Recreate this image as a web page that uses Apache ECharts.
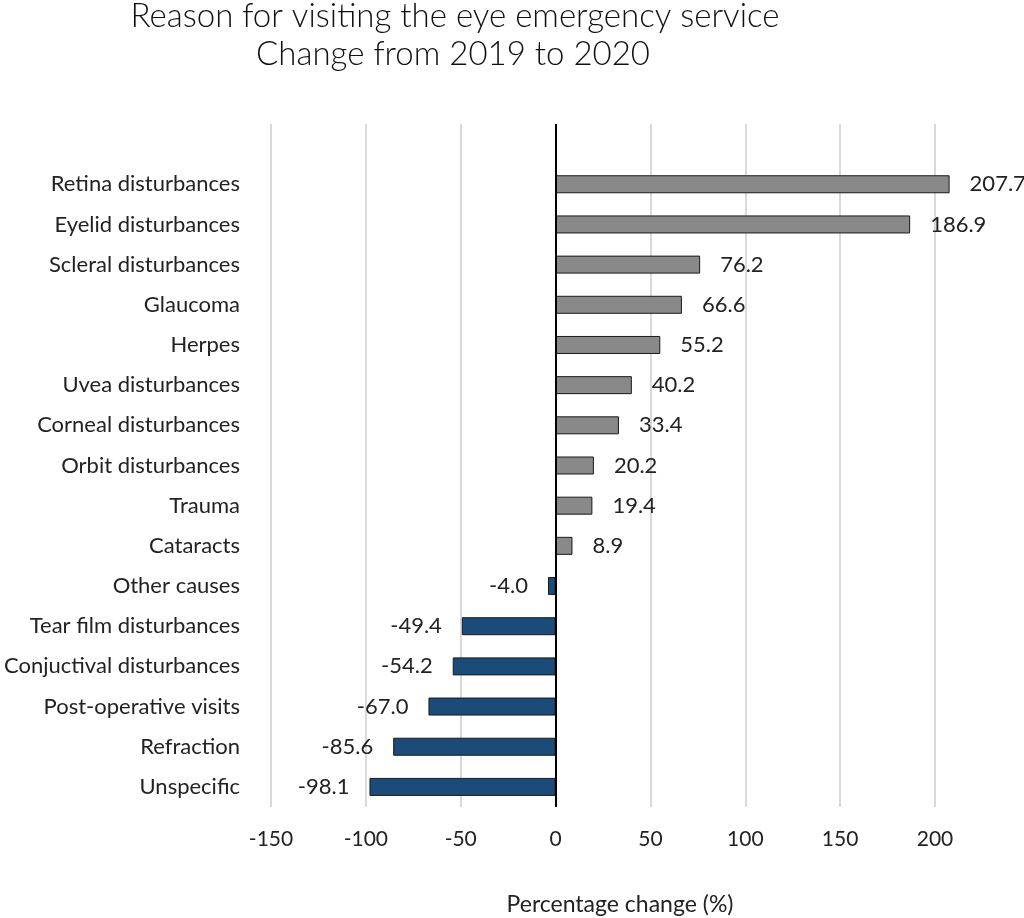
<!DOCTYPE html>
<html>
<head>
<meta charset="utf-8">
<script src="https://cdn.jsdelivr.net/npm/echarts@6/dist/echarts.min.js"></script>
<style>
html,body{margin:0;padding:0;background:#fff;}
#chart{width:1024px;height:918px;}
</style>
</head>
<body>
<div id="chart"></div>
<script>
const titleLines = ['Reason for visiting the eye emergency service', 'Change from 2019 to 2020'];
const categories = [
  'Retina disturbances', 'Eyelid disturbances', 'Scleral disturbances', 'Glaucoma', 'Herpes',
  'Uvea disturbances', 'Corneal disturbances', 'Orbit disturbances', 'Trauma', 'Cataracts',
  'Other causes', 'Tear film disturbances', 'Conjuctival disturbances', 'Post-operative visits',
  'Refraction', 'Unspecific'
];
const values = [207.7, 186.9, 76.2, 66.6, 55.2, 40.2, 33.4, 20.2, 19.4, 8.9, -4.0, -49.4, -54.2, -67.0, -85.6, -98.1];
const xTicks = [-150, -100, -50, 0, 50, 100, 150, 200];
const axisName = 'Percentage change (%)';

const FONT = 'Lato';
const POS_COLOR = '#898989';
const NEG_COLOR = '#1b4b78';

const yData = [''].concat(categories);
const seriesData = [null].concat(values.map(v => ({
  value: v,
  itemStyle: { color: v >= 0 ? POS_COLOR : NEG_COLOR },
  label: { position: v >= 0 ? 'right' : 'left' }
})));

const chart = echarts.init(document.getElementById('chart'));
chart.setOption({
  backgroundColor: '#fff',
  animation: false,
  textStyle: { fontFamily: FONT },
  grid: { left: 271, right: 89, top: 124, bottom: 111, containLabel: false },
  xAxis: {
    type: 'value',
    min: xTicks[0],
    max: xTicks[xTicks.length - 1],
    interval: 50,
    axisLine: { show: false },
    axisTick: { show: false },
    axisLabel: { color: '#222', fontSize: 21, margin: 22, fontFamily: FONT },
    splitLine: { show: true, lineStyle: { color: '#d9d9d9', width: 2 } }
  },
  yAxis: {
    type: 'category',
    data: yData,
    inverse: true,
    axisLine: { show: false },
    axisTick: { show: false },
    axisLabel: { color: '#222', fontSize: 22, margin: 31, fontFamily: FONT },
    splitLine: { show: false }
  },
  series: [{
    type: 'bar',
    data: seriesData,
    barWidth: 18,
    clip: false,
    itemStyle: { borderColor: '#1a1a1a', borderWidth: 1 },
    label: {
      show: true,
      distance: 20,
      color: '#222',
      fontSize: 22,
      fontFamily: FONT,
      formatter: p => (p.value == null ? '' : Number(p.value).toFixed(1))
    },
    markLine: {
      silent: true,
      symbol: 'none',
      label: { show: false },
      lineStyle: { color: '#000', width: 2, type: 'solid' },
      data: [{ xAxis: 0 }]
    },
    z: 3
  }],
  graphic: [
    { type: 'text', x: 455, y: 16, style: { text: titleLines[0], fontSize: 33, fontWeight: 300, fontFamily: FONT, fill: '#111', textAlign: 'center', textVerticalAlign: 'middle' } },
    { type: 'text', x: 453, y: 54, style: { text: titleLines[1], fontSize: 33, fontWeight: 300, fontFamily: FONT, fill: '#111', textAlign: 'center', textVerticalAlign: 'middle' } },
    { type: 'text', x: 620, y: 905, style: { text: axisName, fontSize: 23, fontFamily: FONT, fill: '#222', textAlign: 'center', textVerticalAlign: 'middle' } }
  ]
});
</script>
</body>
</html>
